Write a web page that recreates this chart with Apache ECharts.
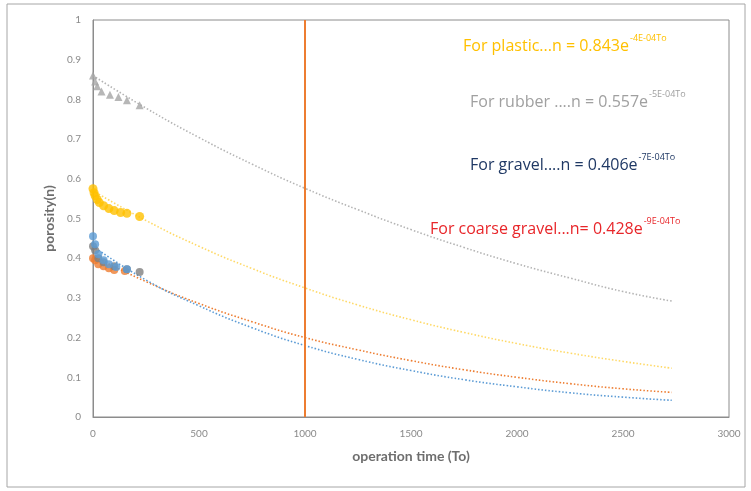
<!DOCTYPE html>
<html>
<head>
<meta charset="utf-8">
<script src="https://cdn.jsdelivr.net/npm/echarts@6/dist/echarts.min.js"></script>
<style>
  html, body { margin: 0; padding: 0; background: #fff; }
  #chart { width: 751px; height: 491px; }
</style>
</head>
<body>
<div id="chart"></div>
<script>
// Measured porosity against operation time
const rubberX = [0, 10, 20, 40, 80, 120, 160, 220];
const rubberY = [0.86, 0.845, 0.833, 0.82, 0.812, 0.806, 0.798, 0.785];

const plasticX = [0, 5, 10, 20, 30, 50, 75, 100, 130, 160, 220];
const plasticY = [0.575, 0.565, 0.557, 0.548, 0.54, 0.532, 0.525, 0.52, 0.515, 0.513, 0.505];

const gravelX = [0, 10, 25, 50, 75, 110, 160];
const gravelY = [0.455, 0.435, 0.41, 0.395, 0.385, 0.378, 0.372];

const mixX = [0, 10, 25, 50, 100, 160, 220];
const mixY = [0.43, 0.42, 0.40, 0.39, 0.38, 0.372, 0.365];

const coarseX = [0, 10, 25, 50, 75, 100, 150];
const coarseY = [0.40, 0.395, 0.385, 0.38, 0.375, 0.37, 0.368];

// Exponential trend lines
const trendX = [0, 250, 500, 750, 1000, 1250, 1500, 1750, 2000, 2250, 2500, 2730];
const trendRubber  = [0.86, 0.778, 0.704, 0.637, 0.576, 0.522, 0.472, 0.427, 0.386, 0.350, 0.316, 0.292];
const trendPlastic = [0.570, 0.495, 0.430, 0.374, 0.325, 0.282, 0.245, 0.213, 0.185, 0.161, 0.140, 0.123];
const trendCoarse  = [0.406, 0.341, 0.286, 0.240, 0.200, 0.169, 0.142, 0.119, 0.100, 0.084, 0.071, 0.062];
const trendGravel  = [0.43, 0.345, 0.280, 0.225, 0.180, 0.145, 0.117, 0.094, 0.076, 0.061, 0.050, 0.042];

const markTime = 1000;

const xTicks = [0, 500, 1000, 1500, 2000, 2500, 3000];

const zip = (xs, ys) => xs.map((x, i) => [x, ys[i]]);

const FONT = 'Lato, "Open Sans", sans-serif';
const EQ_FONT = '"Open Sans", Lato, sans-serif';

function scatter(name, xs, ys, color, symbol, size) {
  return {
    name, type: 'scatter', data: zip(xs, ys), symbol, symbolSize: size,
    itemStyle: { color }, z: 4
  };
}
function trend(name, ys, color) {
  return {
    name, type: 'line', data: zip(trendX, ys), smooth: true, showSymbol: false,
    lineStyle: { color, width: 1.6, type: [1.5, 2] }, z: 3
  };
}

const chart = echarts.init(document.getElementById('chart'));

// Fitted-equation captions with a raised exponent
function eqText(x, y, main, sup, color) {
  return {
    type: 'text', left: x, top: y,
    style: {
      text: '{m|' + main + '}{s|' + sup + '}',
      rich: {
        m: { fontFamily: EQ_FONT, fontSize: 16, fill: color, lineHeight: 20, verticalAlign: 'bottom' },
        s: { fontFamily: EQ_FONT, fontSize: 9, fill: color, lineHeight: 20, verticalAlign: 'top', padding: [0, 0, 1, 1] }
      }
    }
  };
}

chart.setOption({
  animation: false,
  backgroundColor: '#fff',
  grid: { left: 93, right: 22, top: 20, bottom: 74, show: true, borderColor: '#8c8c8c', borderWidth: 1 },
  xAxis: {
    type: 'value', min: 0, max: 3000, interval: 500,
    name: 'operation time (To)', nameLocation: 'middle', nameGap: 32,
    nameTextStyle: { fontFamily: FONT, fontSize: 14, fontWeight: 'bold', color: '#6e6e6e' },
    axisLine: { lineStyle: { color: '#8c8c8c' } },
    axisTick: { show: false },
    splitLine: { show: false },
    axisLabel: { fontFamily: FONT, fontSize: 10, color: '#8a8a8a', margin: 12,
      formatter: v => xTicks.includes(v) ? String(v) : '' }
  },
  yAxis: {
    type: 'value', min: 0, max: 1, interval: 0.1,
    name: 'porosity(n)', nameLocation: 'middle', nameGap: 36, nameRotate: 90,
    nameTextStyle: { fontFamily: FONT, fontSize: 14, fontWeight: 'bold', color: '#6e6e6e' },
    axisLine: { show: true, lineStyle: { color: '#8c8c8c' } },
    axisTick: { show: false },
    splitLine: { show: false },
    axisLabel: { fontFamily: FONT, fontSize: 10, color: '#8a8a8a', margin: 12,
      formatter: v => String(Math.round(v * 10) / 10) }
  },
  graphic: [
    { type: 'rect', shape: { x: 7, y: 4, width: 738, height: 483 },
      style: { fill: 'none', stroke: '#a6a6a6', lineWidth: 1 }, silent: true },
    eqText(463, 34, 'For plastic...n = 0.843e', '-4E-04To', '#ffc000'),
    eqText(470, 90, 'For rubber ....n = 0.557e', '-5E-04To', '#a0a0a0'),
    eqText(470, 153, 'For gravel....n = 0.406e', '-7E-04To', '#1f3864'),
    eqText(430, 217, 'For coarse gravel...n= 0.428e', '-9E-04To', '#e8262a')
  ],
  series: [
    trend('rubber trend', trendRubber, '#b4b4b4'),
    trend('plastic trend', trendPlastic, '#ffd966'),
    trend('coarse trend', trendCoarse, '#ed7d31'),
    trend('gravel trend', trendGravel, '#5b9bd5'),
    scatter('rubber', rubberX, rubberY, '#a5a5a5', 'triangle', 8),
    scatter('plastic', plasticX, plasticY, '#ffc000', 'circle', 9),
    scatter('coarse gravel', coarseX, coarseY, '#ed7d31', 'circle', 8),
    scatter('mixed', mixX, mixY, '#7f7f7f', 'circle', 8),
    scatter('gravel', gravelX, gravelY, '#5b9bd5', 'circle', 8),
    {
      name: 'time mark', type: 'line', data: [], z: 5,
      markLine: {
        silent: true, symbol: 'none', label: { show: false },
        lineStyle: { color: '#ed7d31', width: 2, type: 'solid' },
        data: [[{ coord: [markTime, 0] }, { coord: [markTime, 1] }]]
      }
    }
  ]
});
</script>
</body>
</html>
